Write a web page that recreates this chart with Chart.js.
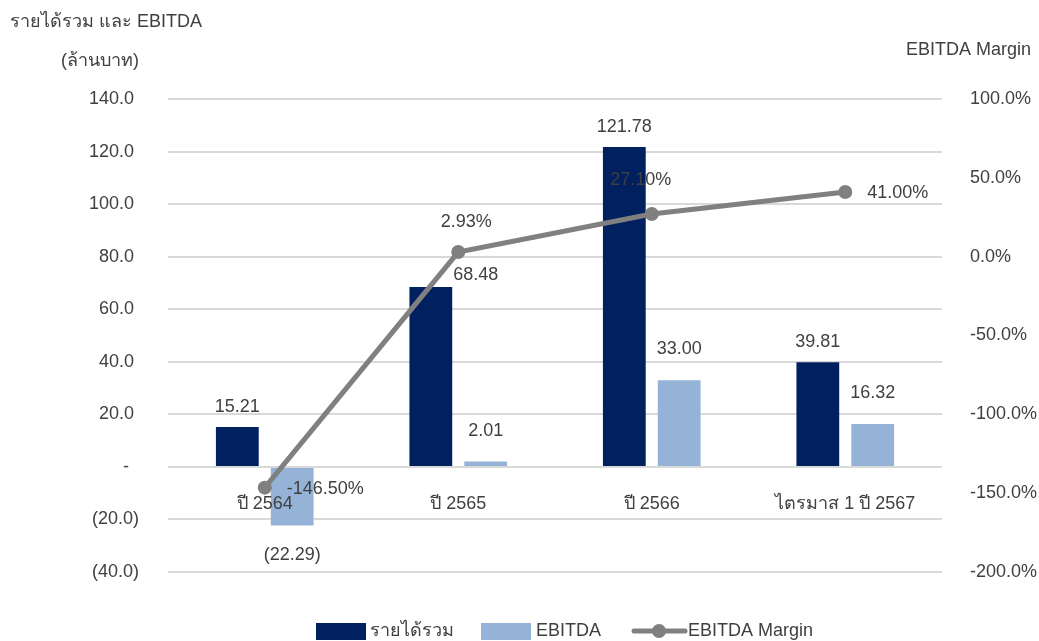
<!DOCTYPE html>
<html>
<head>
<meta charset="utf-8">
<script src="https://cdn.jsdelivr.net/npm/chart.js@4"></script>
<style>
  body { margin: 0; background: #fff; }
  #wrap { width: 1039px; height: 641px; position: relative; }
</style>
</head>
<body>
<div id="wrap"><canvas id="chart" width="1039" height="641"></canvas></div>
<script>
// data
const categories = ['ปี 2564', 'ปี 2565', 'ปี 2566', 'ไตรมาส 1 ปี 2567'];
const revenue = [15.21, 68.48, 121.78, 39.81];
const ebitda = [-22.29, 2.01, 33.00, 16.32];
const margin = [-146.50, 2.93, 27.10, 41.00];

const leftTicks = { min: -40, max: 140, step: 20 };
const rightTicks = { min: -200, max: 100, step: 50 };

const FONT = '"Liberation Sans", Arial, "Noto Sans", sans-serif';
const FS = 18;
const TXT = '#404040';
const NAVY = '#002060';
const LIGHT = '#95b3d7';
const GREY = '#808080';

// accounting style: trailing space keeps digits lined up with the brackets
function fmtLeft(v) {
    if (v === 0) return '-  ';
    if (v < 0) return '(' + Math.abs(v).toFixed(1) + ')';
    return v.toFixed(1) + ' ';
}
function fmtNum(v) {
    if (v < 0) return '(' + Math.abs(v).toFixed(2) + ')';
    return v.toFixed(2);
}

/* value labels, category labels, titles, legend */
const extras = {
    id: 'extras',
    afterDatasetsDraw(chart) {
        const ctx = chart.ctx;
        ctx.save();
        ctx.fillStyle = TXT;
        ctx.font = FS + 'px ' + FONT;
        ctx.textBaseline = 'middle';
        ctx.textAlign = 'center';

        // category labels sit just under the zero line, over the bars
        const zeroY = chart.scales.y.getPixelForValue(0);
        categories.forEach((c, i) => {
            ctx.fillText(c, chart.scales.x.getPixelForValue(i), zeroY + 37);
        });

        // revenue labels
        chart.getDatasetMeta(0).data.forEach((bar, i) => {
            let dx = 0, dy = -20;
            if (i === 1) { dx = 45; dy = -12; }
            ctx.fillText(fmtNum(revenue[i]), bar.x + dx, bar.y + dy);
        });

        // ebitda labels
        chart.getDatasetMeta(1).data.forEach((bar, i) => {
            const dy = ebitda[i] < 0 ? 30 : -31;
            ctx.fillText(fmtNum(ebitda[i]), bar.x, bar.y + dy);
        });

        // margin labels
        chart.getDatasetMeta(2).data.forEach((pt, i) => {
            const txt = margin[i].toFixed(2) + '%';
            if (i === 0 || i === 3) {
                ctx.textAlign = 'left';
                ctx.fillText(txt, pt.x + 22, pt.y + 1);
            } else {
                ctx.textAlign = 'center';
                ctx.fillText(txt, pt.x + (i === 2 ? -11 : 8), pt.y - (i === 2 ? 34 : 30));
            }
        });

        // axis titles
        ctx.textAlign = 'left';
        ctx.fillText('รายได้รวม และ EBITDA', 10, 22);
        ctx.textAlign = 'center';
        ctx.fillText('(ล้านบาท)', 100, 61);
        ctx.textAlign = 'right';
        ctx.fillText('EBITDA Margin', 1031, 50);

        // legend
        const ly = 631;
        ctx.textAlign = 'left';
        ctx.fillStyle = NAVY;
        ctx.fillRect(316, ly - 8, 50, 17);
        ctx.fillStyle = TXT;
        ctx.fillText('รายได้รวม', 370, ly);
        ctx.fillStyle = LIGHT;
        ctx.fillRect(481, ly - 8, 50, 17);
        ctx.fillStyle = TXT;
        ctx.fillText('EBITDA', 536, ly);
        ctx.strokeStyle = GREY;
        ctx.lineWidth = 5;
        ctx.lineCap = 'round';
        ctx.beginPath();
        ctx.moveTo(634, ly);
        ctx.lineTo(685, ly);
        ctx.stroke();
        ctx.fillStyle = GREY;
        ctx.beginPath();
        ctx.arc(659, ly, 7, 0, Math.PI * 2);
        ctx.fill();
        ctx.fillStyle = TXT;
        ctx.fillText('EBITDA Margin', 688, ly);
        ctx.restore();
    }
};

new Chart(document.getElementById('chart'), {
    type: 'bar',
    data: {
        labels: categories,
        datasets: [
            {
                label: 'รายได้รวม',
                data: revenue,
                backgroundColor: NAVY,
                yAxisID: 'y',
                order: 2,
                categoryPercentage: 0.567,
                barPercentage: 0.78
            },
            {
                label: 'EBITDA',
                data: ebitda,
                backgroundColor: LIGHT,
                yAxisID: 'y',
                order: 2,
                categoryPercentage: 0.567,
                barPercentage: 0.78
            },
            {
                type: 'line',
                label: 'EBITDA Margin',
                data: margin,
                yAxisID: 'y1',
                borderColor: GREY,
                borderWidth: 5,
                pointRadius: 7,
                pointBackgroundColor: GREY,
                pointBorderWidth: 0,
                tension: 0,
                order: 0
            }
        ]
    },
    options: {
        responsive: false,
        animation: false,
        layout: { padding: { top: 99, bottom: 69, left: 0, right: 0 } },
        plugins: { legend: { display: false }, tooltip: { enabled: false } },
        scales: {
            x: {
                position: { y: 0 },
                grid: { display: false },
                border: { display: false },
                ticks: { display: false }
            },
            y: {
                position: 'left',
                min: leftTicks.min,
                max: leftTicks.max,
                grid: { color: '#d9d9d9', lineWidth: 2, drawTicks: false },
                border: { display: false },
                ticks: {
                    stepSize: leftTicks.step,
                    color: TXT,
                    font: { size: FS, family: FONT },
                    padding: 29,
                    callback: v => fmtLeft(v)
                },
                afterFit: s => { s.width = 168; }
            },
            y1: {
                position: 'right',
                min: rightTicks.min,
                max: rightTicks.max,
                grid: { display: false, drawTicks: false },
                border: { display: false },
                ticks: {
                    stepSize: rightTicks.step,
                    color: TXT,
                    font: { size: FS, family: FONT },
                    padding: 28,
                    callback: v => v.toFixed(1) + '%'
                },
                afterFit: s => { s.width = 97; }
            }
        }
    },
    plugins: [extras]
});
</script>
</body>
</html>
